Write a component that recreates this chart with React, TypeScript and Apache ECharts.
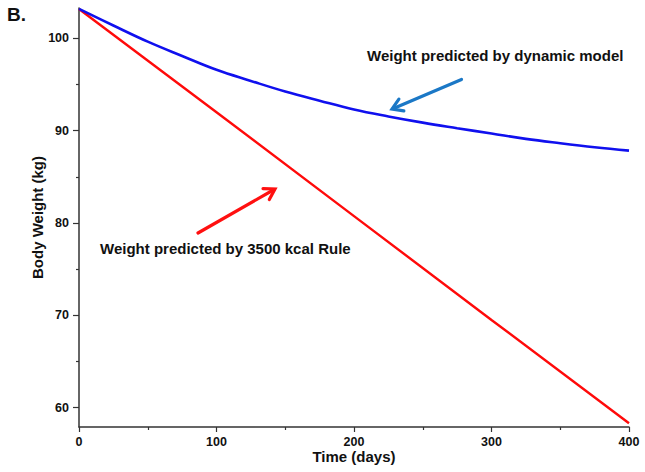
import React, { useEffect, useRef } from "react";
import * as echarts from "echarts";

const days = [0, 25, 50, 75, 100, 125, 150, 175, 200, 225, 250, 275, 300, 325, 350, 375, 400];
const dynamicModel = [103.2, 101.4, 99.65, 98.1, 96.6, 95.4, 94.25, 93.25, 92.3, 91.55, 90.88, 90.28, 89.7, 89.12, 88.65, 88.22, 87.85];
const ruleDays = [0, 100, 200, 300, 400];
const rule3500 = [103.2, 92.0, 80.75, 69.5, 58.3];
const yMajorTicks = [60, 70, 80, 90, 100];
const yMinorTicks = [65, 75, 85, 95];

const FONT = "'Liberation Sans', Arial, sans-serif";

function arrow(x1: number, y1: number, x2: number, y2: number, color: string) {
  const dx = x2 - x1;
  const dy = y2 - y1;
  const len = Math.sqrt(dx * dx + dy * dy);
  const ux = dx / len;
  const uy = dy / len;
  const head = 12;
  const ang = (32 * Math.PI) / 180;
  const bx = -ux;
  const by = -uy;
  const r1x = bx * Math.cos(ang) - by * Math.sin(ang);
  const r1y = bx * Math.sin(ang) + by * Math.cos(ang);
  const r2x = bx * Math.cos(-ang) - by * Math.sin(-ang);
  const r2y = bx * Math.sin(-ang) + by * Math.cos(-ang);
  return {
    type: "group",
    children: [
      {
        type: "line",
        shape: { x1, y1, x2: x2 - ux * 1.5, y2: y2 - uy * 1.5 },
        style: { stroke: color, lineWidth: 3.2, lineCap: "round" },
      },
      {
        type: "polyline",
        shape: {
          points: [
            [x2 + r1x * head, y2 + r1y * head],
            [x2, y2],
            [x2 + r2x * head, y2 + r2y * head],
          ],
        },
        style: { stroke: color, lineWidth: 3.2, fill: "none", lineJoin: "miter", lineCap: "round" },
      },
    ],
  };
}

export default function App() {
  const ref = useRef<HTMLDivElement>(null);
  useEffect(() => {
    if (!ref.current) return;
    const chart = echarts.init(ref.current, undefined, { renderer: "svg" });
    const axisColor = "#333";
    chart.setOption({
      animation: false,
      backgroundColor: "#fff",
      grid: { left: 79, right: 16, top: 8, bottom: 45 },
      xAxis: {
        type: "value",
        min: 0,
        max: 400,
        interval: 100,
        name: "Time (days)",
        nameLocation: "middle",
        nameGap: 21.5,
        nameMoveOverlap: false,
        nameTextStyle: { fontFamily: FONT, fontWeight: "bold", fontSize: 15, color: "#111" },
        axisLine: { show: true, lineStyle: { color: axisColor, width: 1.5 } },
        axisTick: { show: true, length: 5, lineStyle: { color: axisColor, width: 1.2 } },
        minorTick: { show: true, splitNumber: 2, length: 3, lineStyle: { color: axisColor, width: 1.2 } },
        axisLabel: { fontFamily: FONT, fontWeight: "bold", fontSize: 12.5, color: "#111", margin: 8 },
        splitLine: { show: false },
      },
      yAxis: [
        {
          type: "value",
          min: 57.9,
          max: 103.3,
          position: "left",
          name: "Body Weight (kg)",
          nameLocation: "middle",
          nameGap: 34,
          nameMoveOverlap: false,
          nameTextStyle: { fontFamily: FONT, fontWeight: "bold", fontSize: 15, color: "#111" },
          axisLine: { show: true, lineStyle: { color: axisColor, width: 1.5 } },
          axisTick: { show: true, length: 6, customValues: yMajorTicks, lineStyle: { color: axisColor, width: 1.2 } },
          axisLabel: {
            fontFamily: FONT,
            fontWeight: "bold",
            fontSize: 12.5,
            color: "#111",
            margin: 10,
            customValues: yMajorTicks,
          },
          splitLine: { show: false },
        },
        {
          type: "value",
          min: 57.9,
          max: 103.3,
          position: "left",
          offset: 0,
          axisLine: { show: false },
          axisTick: { show: true, length: 3, customValues: yMinorTicks, lineStyle: { color: axisColor, width: 1.2 } },
          axisLabel: { show: false },
          splitLine: { show: false },
        },
      ],
      series: [
        {
          type: "line",
          name: "Dynamic model",
          data: days.map((d, i) => [d, dynamicModel[i]]),
          showSymbol: false,
          smooth: 0.4,
          lineStyle: { color: "#1010ee", width: 2.6 },
          z: 3,
        },
        {
          type: "line",
          name: "3500 kcal Rule",
          data: ruleDays.map((d, i) => [d, rule3500[i]]),
          showSymbol: false,
          lineStyle: { color: "#ff0a0a", width: 2.4 },
          z: 2,
        },
      ],
      graphic: [
        {
          type: "text",
          left: 7,
          top: 5,
          style: { text: "B.", fontFamily: FONT, fontWeight: "bold", fontSize: 19, fill: "#111" },
        },
        {
          type: "text",
          x: 367,
          y: 55,
          style: {
            text: "Weight predicted by dynamic model",
            fontFamily: FONT,
            fontWeight: "bold",
            fontSize: 15,
            fill: "#111",
            verticalAlign: "middle",
          },
        },
        {
          type: "text",
          x: 100,
          y: 248,
          style: {
            text: "Weight predicted by 3500 kcal Rule",
            fontFamily: FONT,
            fontWeight: "bold",
            fontSize: 15,
            fill: "#111",
            verticalAlign: "middle",
          },
        },
        arrow(461.5, 79.5, 392, 109, "#1b78c6"),
        arrow(198, 233, 275, 189, "#ff1010"),
      ],
    });
    return () => chart.dispose();
  }, []);
  return <div ref={ref} style={{ width: 645, height: 472, position: "absolute", left: 0, top: 0 }} />;
}
